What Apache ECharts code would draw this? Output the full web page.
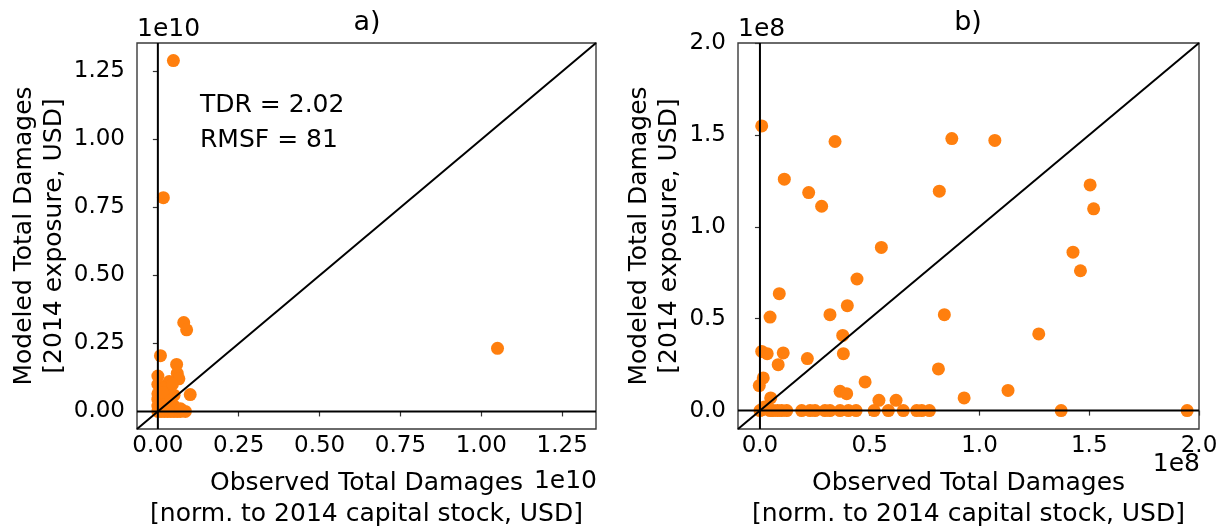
<!DOCTYPE html>
<html>
<head>
<meta charset="utf-8">
<script src="https://cdn.jsdelivr.net/npm/echarts@6/dist/echarts.min.js"></script>
<style>
html,body{margin:0;padding:0;background:#fff;}
#chart{width:1231px;height:527px;}
</style>
</head>
<body>
<div id="chart"></div>
<script>
// ---------- DATA ----------
// Panel a) values in USD: [observed, modeled]
const pointsA = [
  [0.048e10,1.29e10],[0.017e10,0.786e10],[0.08e10,0.327e10],[0.089e10,0.30e10],
  [1.05e10,0.232e10],[0.008e10,0.205e10],[0.058e10,0.173e10],[0.06e10,0.14e10],
  [0.065e10,0.12e10],[0.0,0.13e10],[0.0,0.10e10],[0.10e10,0.062e10],
  [0.035e10,0.11e10],[0.02e10,0.085e10],[0.045e10,0.10e10],[0.05e10,0.06e10],
  [0.0,0.0],[0.01e10,0.0],[0.02e10,0.0],[0.03e10,0.0],[0.04e10,0.0],[0.05e10,0.0],
  [0.06e10,0.0],[0.07e10,0.0],[0.085e10,0.0],
  [0.0,0.02e10],[0.0,0.045e10],[0.01e10,0.05e10],[0.02e10,0.03e10],[0.03e10,0.02e10],
  [0.0,0.065e10],[0.05e10,0.02e10],[0.07e10,0.01e10],[0.015e10,0.07e10],[0.04e10,0.04e10]
];
// Panel b) values in USD: [observed, modeled]
const pointsB = [
  [0.008e8,1.549e8],[0.342e8,1.464e8],[0.874e8,1.48e8],[1.07e8,1.47e8],
  [0.111e8,1.259e8],[0.222e8,1.186e8],[0.281e8,1.112e8],[0.817e8,1.194e8],
  [0.553e8,0.888e8],[0.442e8,0.716e8],[0.088e8,0.636e8],[0.398e8,0.571e8],
  [0.046e8,0.509e8],[0.319e8,0.522e8],[0.84e8,0.522e8],[1.504e8,1.228e8],
  [1.52e8,1.098e8],[1.426e8,0.862e8],[1.46e8,0.761e8],[1.27e8,0.417e8],
  [1.13e8,0.11e8],[1.372e8,0.0],[1.946e8,0.0],[0.377e8,0.409e8],
  [0.008e8,0.322e8],[0.033e8,0.31e8],[0.106e8,0.314e8],[0.083e8,0.25e8],
  [0.216e8,0.283e8],[0.38e8,0.31e8],[0.813e8,0.227e8],[0.015e8,0.178e8],
  [-0.003e8,0.136e8],[0.479e8,0.156e8],[0.365e8,0.105e8],[0.395e8,0.092e8],
  [0.93e8,0.069e8],[0.049e8,0.069e8],[0.542e8,0.056e8],[0.62e8,0.056e8],
  [0.0,0.0],[0.046e8,0.0],[0.099e8,0.0],[0.122e8,0.0],[0.19e8,0.0],[0.228e8,0.0],
  [0.251e8,0.0],[0.296e8,0.0],[0.319e8,0.0],[0.365e8,0.0],[0.403e8,0.0],[0.438e8,0.0],
  [0.52e8,0.0],[0.585e8,0.0],[0.653e8,0.0],[0.714e8,0.0],[0.737e8,0.0],[0.772e8,0.0],
  [0.02e8,0.02e8],[0.01e8,0.005e8],[0.03e8,0.01e8],[0.06e8,0.0],[0.08e8,0.0]
];
// Axis limits
const limA = [-0.0645e10, 1.3545e10];
const limB = [-0.1e8, 2.0e8];
// Ticks
const ticksA = [0, 0.25e10, 0.5e10, 0.75e10, 1.0e10, 1.25e10];
const tickLabelsA = ['0.00','0.25','0.50','0.75','1.00','1.25'];
const ticksB = [0, 0.5e8, 1.0e8, 1.5e8, 2.0e8];
const tickLabelsB = ['0.0','0.5','1.0','1.5','2.0'];
// Texts
const titles = ['a)', 'b)'];
const offsetA = '1e10', offsetB = '1e8';
const xName = 'Observed Total Damages\n[norm. to 2014 capital stock, USD]';
const yName = 'Modeled Total Damages\n[2014 exposure, USD]';
const statsA = ['TDR = 2.02', 'RMSF = 81'];

// ---------- CHART ----------
const FONT = 'DejaVu Sans';
const FS = 23;   // tick labels
const FL = 25;   // axis names, offsets, annotations
const DOT = '#ff7f0e';

function refLines(lim){
  return {
    h: [[lim[0],0],[lim[1],0]],
    v: [[0,lim[0]],[0,lim[1]]],
    d: [[lim[0],lim[0]],[lim[1],lim[1]]]
  };
}
function labelFmt(ticks, labels){
  return function(v){
    for (let i=0;i<ticks.length;i++){ if (Math.abs(ticks[i]-v) < 1e-6*Math.abs(ticks[ticks.length-1])) return labels[i]; }
    return '';
  };
}
function xAx(gi, lim, ticks, labels, gap){
  return {
    gridIndex: gi, type:'value', min: lim[0], max: lim[1],
    splitLine:{show:false}, axisLine:{show:false},
    axisTick:{show:true, length:5, customValues: ticks, lineStyle:{color:'#333', width:1.2}},
    axisLabel:{customValues: ticks, formatter: labelFmt(ticks, labels), fontSize: FS, fontFamily: FONT, color:'#000', margin: 6},
    name: xName, nameLocation:'middle', nameGap: gap,
    nameTextStyle:{fontSize: FL, fontFamily: FONT, color:'#000', lineHeight: 31, align:'center'}
  };
}
function yAx(gi, lim, ticks, labels, gap){
  return {
    gridIndex: gi, type:'value', min: lim[0], max: lim[1],
    splitLine:{show:false}, axisLine:{show:false},
    axisTick:{show:true, length:5, customValues: ticks, lineStyle:{color:'#333', width:1.2}},
    axisLabel:{customValues: ticks, formatter: labelFmt(ticks, labels), fontSize: FS, fontFamily: FONT, color:'#000', margin: 12},
    name: yName, nameLocation:'middle', nameGap: gap, nameRotate: 90,
    nameTextStyle:{fontSize: FL, fontFamily: FONT, color:'#000', lineHeight: 30, align:'center'}
  };
}
function lineSeries(gi, data){
  return {type:'line', xAxisIndex: gi, yAxisIndex: gi, data: data, symbol:'none', silent:true,
    lineStyle:{color:'#000', width:2}, z: 5, animation:false};
}
const rA = refLines(limA), rB = refLines(limB);
function txt(x, y, s, size, align){
  return {type:'text', x:x, y:y, style:{text:s, font: size+'px "DejaVu Sans"', fill:'#000', align:align, verticalAlign:'middle'}};
}

const chart = echarts.init(document.getElementById('chart'), null, {renderer:'canvas'});
chart.setOption({
  animation: false,
  backgroundColor: '#fff',
  grid: [
    {left:137, top:43, width:459, height:386, outerBoundsMode:'none', containLabel:false, show:true, borderColor:'#3a3a3a', borderWidth:1.4, backgroundColor:'transparent'},
    {left:738, top:43, width:461, height:386, outerBoundsMode:'none', containLabel:false, show:true, borderColor:'#3a3a3a', borderWidth:1.4, backgroundColor:'transparent'}
  ],
  xAxis: [ xAx(0, limA, ticksA, tickLabelsA, 39), xAx(1, limB, ticksB, tickLabelsB, 39) ],
  yAxis: [ yAx(0, limA, ticksA, tickLabelsA, 65), yAx(1, limB, ticksB, tickLabelsB, 54) ],
  series: [
    {type:'scatter', xAxisIndex:0, yAxisIndex:0, data: pointsA, symbolSize:13, itemStyle:{color:DOT, opacity:1}, z:2},
    {type:'scatter', xAxisIndex:1, yAxisIndex:1, data: pointsB, symbolSize:13, itemStyle:{color:DOT, opacity:1}, z:2},
    lineSeries(0, rA.h), lineSeries(0, rA.v), lineSeries(0, rA.d),
    lineSeries(1, rB.h), lineSeries(1, rB.v), lineSeries(1, rB.d)
  ],
  graphic: [
    txt(367, 23, titles[0], 27, 'center'),
    txt(968, 23, titles[1], 27, 'center'),
    txt(137, 29, offsetA, FL, 'left'),
    txt(738, 29, offsetB, FL, 'left'),
    txt(597, 481, offsetA, FL, 'right'),
    txt(1200, 464, offsetB, FL, 'right'),
    txt(200, 105, statsA[0], FL, 'left'),
    txt(200, 140, statsA[1], FL, 'left')
  ]
});
</script>
</body>
</html>
